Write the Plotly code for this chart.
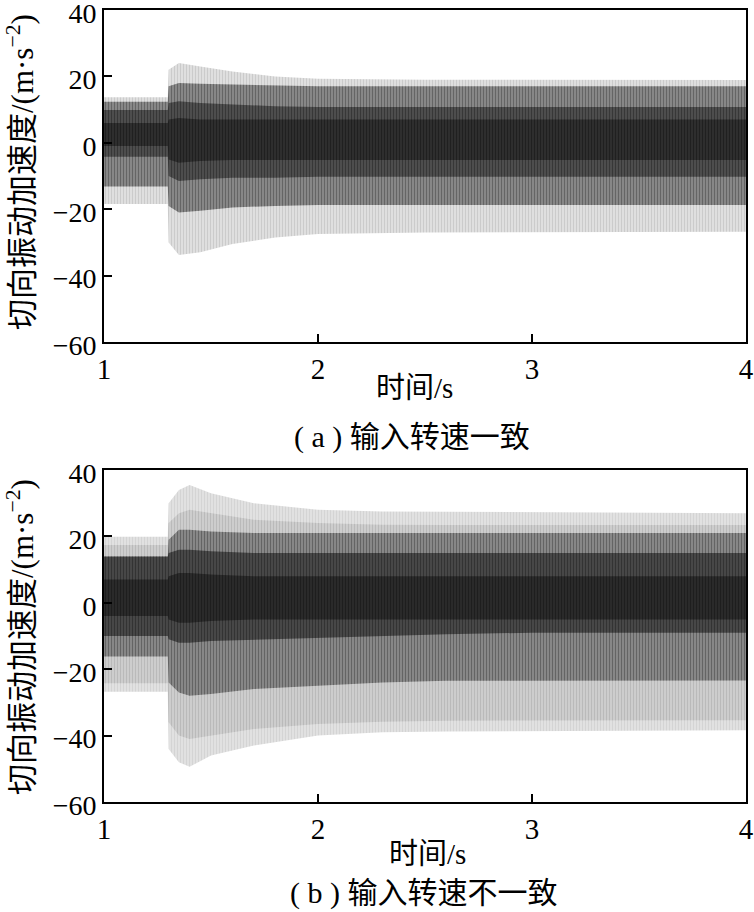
import plotly.graph_objects as go

# ---------------- data (envelopes) ----------------
# panel (a): input speeds identical
t_a = [1.0, 1.298, 1.302, 1.35, 1.45, 1.6, 1.8, 2.0, 2.5, 3.0, 3.5, 4.0]
outer_hi_a = [13.7, 13.7, 22.0, 24.0, 23.0, 21.5, 20.0, 19.3, 19.0, 18.9, 18.9, 18.9]
outer_lo_a = [-18.4, -18.4, -30.0, -33.8, -33.0, -30.5, -28.5, -27.5, -27.0, -26.8, -26.8, -26.8]
mid_hi_a = [12.4, 12.4, 17.0, 18.0, 17.8, 17.6, 17.2, 17.0, 17.0, 17.0, 17.0, 17.0]
mid_lo_a = [-13.2, -13.2, -19.0, -21.0, -20.5, -19.5, -19.0, -18.7, -18.7, -18.7, -18.7, -18.7]
core_hi_a = [9.9, 9.9, 12.0, 12.5, 12.0, 11.5, 11.0, 10.8, 10.8, 10.8, 10.8, 10.8]
core_lo_a = [-4.2, -4.2, -10.0, -11.5, -11.0, -10.5, -10.5, -10.2, -10.2, -10.2, -10.2, -10.2]
inner_hi_a = [6.0, 6.0, 7.0, 7.5, 7.0, 7.0, 7.0, 7.0, 7.0, 7.0, 7.0, 7.0]
inner_lo_a = [-1.0, -1.0, -5.0, -6.0, -5.5, -5.2, -5.2, -5.2, -5.2, -5.2, -5.2, -5.2]

# panel (b): input speeds different
t_b = [1.0, 1.298, 1.302, 1.35, 1.4, 1.5, 1.7, 2.0, 2.3, 2.6, 3.0, 3.5, 4.0]
outer_hi_b = [19.9, 19.9, 30.0, 34.0, 35.5, 33.0, 30.0, 28.0, 27.5, 27.4, 27.4, 27.2, 27.0]
outer_lo_b = [-26.8, -26.8, -44.0, -48.0, -49.4, -46.0, -43.0, -40.0, -39.0, -38.8, -38.6, -38.5, -38.4]
trough_hi_b = [17.4, 17.4, 24.0, 27.0, 28.0, 27.0, 25.0, 24.0, 23.5, 23.4, 23.4, 23.4, 23.4]
trough_lo_b = [-24.2, -24.2, -36.0, -40.0, -41.0, -40.0, -38.0, -36.5, -35.8, -35.5, -35.4, -35.4, -35.4]
mid_hi_b = [14.0, 14.0, 19.0, 22.0, 22.0, 21.5, 21.0, 21.0, 21.0, 21.0, 21.0, 21.0, 21.0]
mid_lo_b = [-16.2, -16.2, -24.0, -27.0, -28.0, -27.5, -26.0, -25.0, -24.0, -23.5, -23.4, -23.4, -23.4]
core_hi_b = [13.9, 13.9, 15.0, 16.0, 16.0, 15.5, 15.0, 15.0, 15.0, 15.0, 15.0, 15.0, 15.0]
core_lo_b = [-10.0, -10.0, -11.0, -12.0, -12.0, -11.5, -11.0, -10.5, -10.0, -9.5, -9.0, -9.0, -9.0]
inner_hi_b = [7.0, 7.0, 8.0, 9.0, 9.0, 8.5, 8.0, 8.0, 8.0, 8.0, 8.0, 8.0, 8.0]
inner_lo_b = [-4.0, -4.0, -5.0, -6.0, -6.0, -5.5, -5.0, -5.0, -5.0, -5.0, -5.0, -5.0, -5.0]

x_ticks = [1, 2, 3, 4]
y_ticks = [-60, -40, -20, 0, 20, 40]
y_title = "切向振动加速度/(m·s<sup>−2</sup>)"
x_title = "时间/s"
caption_a = "( a ) 输入转速一致"
caption_b = "( b ) 输入转速不一致"

# ---------------- figure ----------------
W, H = 754, 912
LAT = "Liberation Serif, Times New Roman, serif"
CJK = "Liberation Serif, Noto Sans CJK SC, serif"

fig = go.Figure()


def band(t, hi, lo, bg, fg, xa, ya, size=3, solidity=0.45):
    fig.add_trace(go.Scatter(
        x=list(t) + list(t)[::-1],
        y=list(hi) + list(lo)[::-1],
        mode="lines", line=dict(width=0), fill="toself",
        fillcolor=bg,
        fillpattern=dict(shape="|", bgcolor=bg, fgcolor=fg, size=size, solidity=solidity),
        xaxis=xa, yaxis=ya, hoverinfo="skip", showlegend=False,
    ))


# panel (a)
band(t_a, outer_hi_a, outer_lo_a, "#e2e2e2", "#b4b4b4", "x", "y")
band(t_a, mid_hi_a, mid_lo_a, "#929292", "#383838", "x", "y", solidity=0.5)
band(t_a, core_hi_a, core_lo_a, "#545454", "#1a1a1a", "x", "y", solidity=0.5)
band(t_a, inner_hi_a, inner_lo_a, "#323232", "#0e0e0e", "x", "y", solidity=0.5)

# panel (b)
band(t_b, outer_hi_b, outer_lo_b, "#e4e4e4", "#c4c4c4", "x2", "y2")
band(t_b, trough_hi_b, trough_lo_b, "#d0d0d0", "#a4a4a4", "x2", "y2")
band(t_b, mid_hi_b, mid_lo_b, "#929292", "#363636", "x2", "y2", solidity=0.5)
band(t_b, core_hi_b, core_lo_b, "#4e4e4e", "#181818", "x2", "y2", solidity=0.5)
band(t_b, inner_hi_b, inner_lo_b, "#2e2e2e", "#0e0e0e", "x2", "y2", solidity=0.5)

x0, x1 = 104 / W, 746 / W
dom_a = [1 - 342 / H, 1 - 10 / H]
dom_b = [1 - 802 / H, 1 - 470 / H]

xcommon = dict(range=[1, 4], tickvals=x_ticks, ticks="inside", ticklen=8, tickwidth=1.5,
               tickcolor="black", showline=True, linecolor="black", linewidth=1.8,
               mirror=True, showgrid=False, zeroline=False, automargin=False,
               ticklabeloverflow="allow",
               tickfont=dict(family=LAT, size=29, color="black"), domain=[x0, x1])
ycommon = dict(range=[-60, 40], tickvals=y_ticks, ticks="inside", ticklen=8, tickwidth=1.5,
               tickcolor="black", showline=True, linecolor="black", linewidth=1.8,
               mirror=True, showgrid=False, zeroline=False, automargin=False,
               ticklabeloverflow="allow", ticklabelshift=3,
               tickfont=dict(family=LAT, size=28, color="black"))

fig.update_layout(
    width=W, height=H, margin=dict(l=0, r=0, t=0, b=0, autoexpand=False),
    paper_bgcolor="white", plot_bgcolor="white", showlegend=False,
    xaxis=dict(**xcommon, anchor="y"),
    yaxis=dict(**ycommon, domain=dom_a, anchor="x"),
    xaxis2=dict(**xcommon, anchor="y2"),
    yaxis2=dict(**ycommon, domain=dom_b, anchor="x2"),
)


def ann(text, xpx, ypx, size, angle=0):
    fig.add_annotation(text=text, x=xpx / W, y=1 - ypx / H, xref="paper", yref="paper",
                       xanchor="center", yanchor="middle", showarrow=False, textangle=angle,
                       font=dict(family=CJK, size=size, color="black"))


ann(y_title, 20, 172, 31, -90)
ann(y_title, 20, 637, 31, -90)
ann(x_title, 414, 388, 29)
ann(x_title, 427, 854, 29)
ann(caption_a, 412, 437, 30)
ann(caption_b, 423, 893, 30)

fig.write_html("out.html", config={"displayModeBar": False},
               post_script="document.body.style.margin='0px';document.body.style.overflow='hidden';")
